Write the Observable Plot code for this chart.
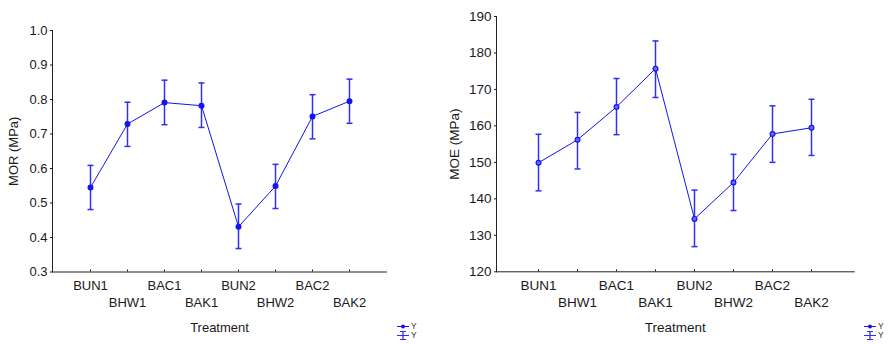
<!DOCTYPE html>
<html>
<head>
<meta charset="utf-8">
<script src="https://cdn.jsdelivr.net/npm/d3@7"></script>
<script src="https://cdn.jsdelivr.net/npm/@observablehq/plot@0.6"></script>
<style>
  html, body { margin: 0; padding: 0; background: #fff; }
  #wrap { position: relative; width: 894px; height: 344px; overflow: hidden; font-family: "Liberation Sans", Arial, sans-serif; }
  .panel { position: absolute; top: 0; }
  .legend { position: absolute; font-size: 8.5px; color: #333; line-height: 9px; }
  .legend .row { display: flex; align-items: center; height: 9px; overflow: hidden; }
  .legend svg { display: block; }
</style>
</head>
<body>
<div id="wrap">
  <div id="p1" class="panel" style="left:0px"></div>
  <div id="p2" class="panel" style="left:445px"></div>
</div>
<script>
const treatments = ["BUN1", "BHW1", "BAC1", "BAK1", "BUN2", "BHW2", "BAC2", "BAK2"];

const morMean  = [0.545, 0.729, 0.791, 0.782, 0.431, 0.549, 0.751, 0.795];
const morLower = [0.481, 0.664, 0.727, 0.719, 0.368, 0.484, 0.686, 0.731];
const morUpper = [0.609, 0.792, 0.856, 0.848, 0.497, 0.612, 0.814, 0.859];
const morTicks = [0.3, 0.4, 0.5, 0.6, 0.7, 0.8, 0.9, 1.0];

const moeMean  = [149.9, 156.2, 165.2, 175.7, 134.5, 144.5, 157.8, 159.5];
const moeLower = [142.2, 148.2, 157.6, 167.8, 126.9, 136.8, 150.0, 151.9];
const moeUpper = [157.7, 163.7, 173.0, 183.3, 142.4, 152.2, 165.5, 167.3];
const moeTicks = [120, 130, 140, 150, 160, 170, 180, 190];

const BLUE = "#1414ee";
const BAR = "#3030f4";

const capSymbol = {
  draw(ctx) { ctx.moveTo(-3, 0); ctx.lineTo(3, 0); }
};

function panel(opts) {
  const rows = treatments.map((t, i) => ({t, m: opts.mean[i], lo: opts.lower[i], hi: opts.upper[i]}));
  const even = treatments.filter((d, i) => i % 2 === 0);
  const odd = treatments.filter((d, i) => i % 2 === 1);
  return Plot.plot({
    width: opts.width,
    height: 344,
    marginLeft: opts.ml,
    marginRight: opts.mr,
    marginTop: opts.mt,
    marginBottom: opts.mb,
    style: {fontFamily: "'Liberation Sans', Arial, sans-serif", fontSize: opts.fs + "px", color: "#1a1a1a", background: "transparent"},
    x: {type: "point", domain: treatments, padding: 1},
    y: {domain: [opts.ticks[0], opts.ticks[opts.ticks.length - 1]]},
    marks: [
      Plot.frame({anchor: "left", stroke: "#222"}),
      Plot.frame({anchor: "bottom", stroke: "#222"}),
      Plot.axisY(opts.ticks, {tickSize: 2, tickPadding: 3, tickFormat: opts.fmt, fontSize: opts.fs,
        label: opts.ylabel, labelAnchor: "center", labelArrow: "none", labelOffset: opts.ylo}),
      Plot.axisX(treatments, {tickSize: 2, dy: -2, tickFormat: () => "", label: null}),
      Plot.axisX(even, {tickSize: 0, tickPadding: 8.5, fontSize: opts.fs, label: "Treatment",
        labelAnchor: "center", labelArrow: "none", labelOffset: opts.xlo}),
      Plot.axisX(odd, {tickSize: 0, tickPadding: 26, fontSize: opts.fs, label: null}),
      Plot.ruleX(rows, {x: "t", y1: "lo", y2: "hi", stroke: BAR, strokeWidth: 1.5}),
      Plot.dot(rows, {x: "t", y: "lo", symbol: capSymbol, fill: "none", stroke: BAR, strokeWidth: 1.5}),
      Plot.dot(rows, {x: "t", y: "hi", symbol: capSymbol, fill: "none", stroke: BAR, strokeWidth: 1.5}),
      Plot.line(rows, {x: "t", y: "m", stroke: BLUE, strokeWidth: 1}),
      Plot.dot(rows, {x: "t", y: "m", r: 2.4, fill: opts.dotFill, stroke: BLUE, strokeWidth: 1.2})
    ]
  });
}

document.getElementById("p1").appendChild(panel({
  width: 445, ml: 52, mr: 59, mt: 30, mb: 72.5, fs: 13,
  mean: morMean, lower: morLower, upper: morUpper, ticks: morTicks, fmt: d3.format(".1f"),
  ylabel: "MOR (MPa)", ylo: 44, xlo: 60, dotFill: BLUE
}));
document.getElementById("p2").appendChild(panel({
  width: 449, ml: 51, mr: 40.3, mt: 16, mb: 72.7, fs: 13.5,
  mean: moeMean, lower: moeLower, upper: moeUpper, ticks: moeTicks, fmt: d3.format("d"),
  ylabel: "MOE (MPa)", ylo: 47, xlo: 60, dotFill: "#6a6af8"
}));

function legend(left) {
  const div = document.createElement("div");
  div.className = "legend";
  div.style.left = left + "px";
  div.style.top = "322px";
  div.innerHTML =
    '<div class="row"><svg width="12" height="9"><line x1="0" y1="4.5" x2="12" y2="4.5" stroke="' + BLUE + '" stroke-width="1"/><circle cx="6" cy="4.5" r="2" fill="' + BLUE + '"/></svg><span style="margin-left:2px">Y</span></div>' +
    '<div class="row"><svg width="12" height="9"><line x1="6" y1="0.5" x2="6" y2="8.5" stroke="' + BAR + '" stroke-width="1.3"/><line x1="3" y1="0.5" x2="9" y2="0.5" stroke="' + BAR + '"/><line x1="3" y1="8.5" x2="9" y2="8.5" stroke="' + BAR + '"/><line x1="0" y1="4.5" x2="12" y2="4.5" stroke="' + BAR + '"/></svg><span style="margin-left:2px">Y</span></div>';
  document.getElementById("wrap").appendChild(div);
}
legend(397);
legend(864);
</script>
</body>
</html>
